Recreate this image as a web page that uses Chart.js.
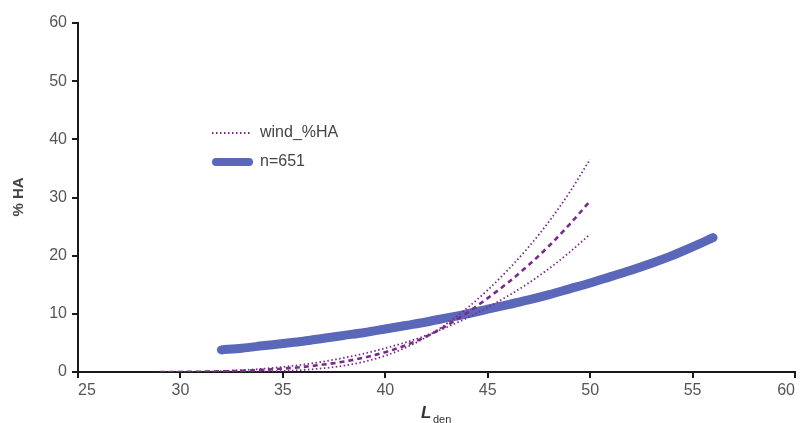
<!DOCTYPE html>
<html>
<head>
<meta charset="utf-8">
<script src="https://cdn.jsdelivr.net/npm/chart.js@4/dist/chart.umd.min.js"></script>
<style>
  html, body { margin: 0; padding: 0; background: #fff; }
  #wrap { width: 801px; height: 423px; position: relative; }
</style>
</head>
<body>
<div id="wrap"><canvas id="chart"></canvas></div>
<script>
// Lden steps for the wind curves
const windLden = [29, 30, 31, 32, 33, 34, 35, 36, 37, 38, 39, 40, 41, 42, 43, 44, 45, 46, 47, 48, 49, 50];
const windHA = [0, 0.01, 0.05, 0.11, 0.21, 0.36, 0.58, 0.88, 1.28, 1.8, 2.5, 3.4, 4.6, 6.1, 8.0, 10.2, 12.7, 15.4, 18.4, 21.7, 25.4, 29.4];
const windHAUpper = [0, 0, 0, 0.01, 0.03, 0.08, 0.18, 0.36, 0.65, 1.1, 1.8, 2.8, 4.2, 6.0, 8.3, 11.0, 14.1, 17.6, 21.5, 25.9, 30.9, 36.6];
const windHALower = [0, 0.01, 0.06, 0.16, 0.32, 0.55, 0.87, 1.28, 1.8, 2.45, 3.2, 4.1, 5.1, 6.3, 7.7, 9.3, 11.1, 13.1, 15.3, 17.8, 20.6, 23.7];

// n=651 curve
const nLden = [32, 33, 34, 35, 36, 37, 38, 39, 40, 41, 42, 43, 44, 45, 46, 47, 48, 49, 50, 51, 52, 53, 54, 55, 56];
const nHA = [3.8, 4.1, 4.5, 4.9, 5.3, 5.8, 6.3, 6.8, 7.4, 8.0, 8.6, 9.3, 10.0, 10.8, 11.6, 12.4, 13.3, 14.3, 15.3, 16.4, 17.5, 18.7, 20.0, 21.5, 23.1];

const xTicks = [25, 30, 35, 40, 45, 50, 55, 60];
const yTicks = [0, 10, 20, 30, 40, 50, 60];

const PURPLE = '#7a2a8c';
const BLUE = '#5b68b9';
const AXIS = '#1a1a1a';
const TEXT = '#555';
const FONT = '"Liberation Sans", Arial, sans-serif';

const pts = (xs, ys) => xs.map((x, i) => ({ x: x, y: ys[i] }));

// titles and legend drawn on top
const annotations = {
  id: 'annotations',
  afterDraw(chart) {
    const ctx = chart.ctx;
    ctx.save();
    // y title
    ctx.translate(19, 197);
    ctx.rotate(-Math.PI / 2);
    ctx.font = 'bold 15px ' + FONT;
    ctx.fillStyle = '#444';
    ctx.textAlign = 'center';
    ctx.textBaseline = 'middle';
    ctx.fillText('% HA', 0, 0);
    ctx.restore();

    // x title L_den
    ctx.save();
    ctx.fillStyle = '#333';
    ctx.textBaseline = 'alphabetic';
    ctx.font = 'italic bold 17px ' + FONT;
    ctx.fillText('L', 421, 418);
    ctx.font = '11px ' + FONT;
    ctx.fillText('den', 433, 423);
    ctx.restore();

    // legend
    ctx.save();
    ctx.lineCap = 'butt';
    ctx.strokeStyle = PURPLE;
    ctx.lineWidth = 1.8;
    ctx.setLineDash([1.5, 2.5]);
    ctx.beginPath();
    ctx.moveTo(212, 133);
    ctx.lineTo(252, 133);
    ctx.stroke();
    ctx.setLineDash([]);
    ctx.strokeStyle = BLUE;
    ctx.lineWidth = 8;
    ctx.lineCap = 'round';
    ctx.beginPath();
    ctx.moveTo(216, 162);
    ctx.lineTo(249, 162);
    ctx.stroke();
    ctx.fillStyle = '#444';
    ctx.font = '16px ' + FONT;
    ctx.textBaseline = 'middle';
    ctx.fillText('wind_%HA', 260, 133);
    ctx.fillText('n=651', 260, 162);
    ctx.restore();
  }
};

new Chart(document.getElementById('chart'), {
  type: 'line',
  data: {
    datasets: [
      {
        label: 'wind_%HA upper',
        data: pts(windLden, windHAUpper),
        borderColor: PURPLE,
        borderWidth: 1.8,
        borderDash: [1.5, 2.5],
        pointRadius: 0,
        cubicInterpolationMode: 'monotone',
        order: 1
      },
      {
        label: 'wind_%HA',
        data: pts(windLden, windHA),
        borderColor: PURPLE,
        borderWidth: 2.6,
        borderDash: [5, 4],
        pointRadius: 0,
        cubicInterpolationMode: 'monotone',
        order: 1
      },
      {
        label: 'wind_%HA lower',
        data: pts(windLden, windHALower),
        borderColor: PURPLE,
        borderWidth: 1.8,
        borderDash: [1.5, 2.5],
        pointRadius: 0,
        cubicInterpolationMode: 'monotone',
        order: 1
      },
      {
        label: 'n=651',
        data: pts(nLden, nHA),
        borderColor: BLUE,
        borderWidth: 9,
        borderCapStyle: 'round',
        pointRadius: 0,
        cubicInterpolationMode: 'monotone',
        order: 2
      }
    ]
  },
  options: {
    responsive: true,
    maintainAspectRatio: false,
    animation: false,
    layout: { padding: { left: 0, right: 6, top: 23, bottom: 0 } },
    plugins: {
      legend: { display: false },
      tooltip: { enabled: false }
    },
    scales: {
      x: {
        type: 'linear',
        min: 25,
        max: 60,
        afterBuildTicks: s => { s.ticks = xTicks.map(v => ({ value: v })); },
        afterFit: s => { s.height = 51; s.paddingLeft = 0; s.paddingRight = 0; },
        border: { display: true, color: AXIS, width: 2 },
        grid: { display: true, drawOnChartArea: false, drawTicks: true, tickLength: 6, color: AXIS, lineWidth: 2 },
        ticks: { color: TEXT, font: { family: FONT, size: 16 }, padding: 3, align: 'inner', maxRotation: 0 }
      },
      y: {
        min: 0,
        max: 60,
        afterBuildTicks: s => { s.ticks = yTicks.map(v => ({ value: v })); },
        afterFit: s => { s.width = 78; s.paddingTop = 0; s.paddingBottom = 0; },
        border: { display: true, color: AXIS, width: 2 },
        grid: { display: true, drawOnChartArea: false, drawTicks: true, tickLength: 6, color: AXIS, lineWidth: 2 },
        ticks: { color: TEXT, font: { family: FONT, size: 16 }, padding: 5 }
      }
    }
  },
  plugins: [annotations]
});
</script>
</body>
</html>
